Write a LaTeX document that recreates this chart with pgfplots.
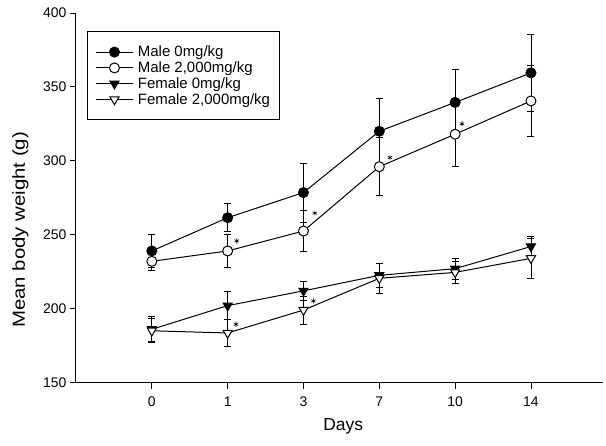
\documentclass[border=0pt]{standalone}
\usepackage{fontspec}
\setmainfont{Liberation Sans}
\usepackage{graphicx}
\usepackage{pgfplots}
\pgfplotsset{compat=1.18}

\pgfplotsset{
  sd/.style={
    /pgfplots/error bars/y dir=both,
    /pgfplots/error bars/y explicit,
    /pgfplots/error bars/error bar style={line width=0.9bp},
    /pgfplots/error bars/error mark options={rotate=90, mark size=3.5bp, line width=0.9bp}},
}

\begin{document}
\begin{tikzpicture}
\useasboundingbox (-76bp,-63.5bp) rectangle (530bp,382.5bp);
\begin{axis}[
  scale only axis, width=527bp, height=369.5bp,
  xmin=-1, xmax=5.95, ymin=150, ymax=400,
  axis x line*=bottom, axis y line*=left,
  axis line style={-, line width=1bp},
  xtick={0,1,2,3,4,5}, xticklabels={0,1,3,7,10,14},
  ytick={150,200,250,300,350,400},
  tick align=outside, major tick length=6bp,
  tick style={black, line width=0.9bp},
  /pgf/number format/assume math mode=true,
  ticklabel style={font=\fontsize{14}{16}\selectfont},
  xticklabel style={yshift=-5bp},
  xlabel={Days},
  xlabel style={font=\fontsize{17.5}{20}\selectfont, at={(axis description cs:0.507,-0.131)}, anchor=base},
  ylabel={\scalebox{1.17}[1]{Mean body weight (g)}},
  ylabel style={font=\fontsize{17.5}{20}\selectfont, at={(axis description cs:-0.097,0.413)}, anchor=base},
  every axis plot/.append style={black, line width=1bp},
  legend image code/.code={\draw[mark repeat=2, mark phase=2, #1] plot coordinates {(0bp,0bp) (18.5bp,0bp) (37bp,0bp)};},
  legend style={at={(axis description cs:0.0209,0.950)}, anchor=north west,
    draw=black, line width=0.9bp, font=\fontsize{15}{17}\selectfont,
    inner xsep=8bp, inner ysep=12.5bp, row sep=0.5bp, column sep=3bp,
    nodes={inner sep=1.5bp}, cells={anchor=west}},
]
% Male 0 mg/kg
\addplot[sd, mark=*, mark size=5bp, mark options={fill=black, solid}]
  coordinates {(0,239) +- (0,11) (1,261.5) +- (0,9.5) (2,278.5) +- (0,20)
               (3,320) +- (0,22) (4,339.5) +- (0,22.5) (5,359.5) +- (0,26)};
\addlegendentry{Male 0mg/kg}
% Male 2,000 mg/kg
\addplot[sd, mark=*, mark size=5bp, mark options={fill=white, solid}]
  coordinates {(0,232) +- (0,6) (1,239) +- (0,11) (2,252.5) +- (0,14)
               (3,296) +- (0,19.5) (4,318) +- (0,22) (5,340.5) +- (0,24)};
\addlegendentry{Male 2,000mg/kg}
% Female 0 mg/kg
\addplot[sd, mark=triangle*, mark size=5.2bp, mark options={rotate=180, fill=black, solid}]
  coordinates {(0,186) +- (0,8.5) (1,202) +- (0,9.5) (2,212) +- (0,6.5)
               (3,222.5) +- (0,8) (4,227) +- (0,7) (5,242) +- (0,7)};
\addlegendentry{Female 0mg/kg}
% Female 2,000 mg/kg
\addplot[sd, mark=triangle*, mark size=5.2bp, mark options={rotate=180, fill=white, solid}]
  coordinates {(0,185) +- (0,8) (1,183.5) +- (0,9) (2,199) +- (0,9.5)
               (3,220.5) +- (0,10) (4,224.5) +- (0,7.5) (5,234) +- (0,13.5)};
\addlegendentry{Female 2,000mg/kg}
% significance asterisks
\addplot[only marks, mark=asterisk, mark size=2.6bp, line width=0.6bp, forget plot]
  coordinates {(1.12,245.8) (2.15,264.6) (3.14,302.2) (4.09,325)
               (1.11,189.4) (2.13,205.2)};
\end{axis}
\end{tikzpicture}
\end{document}
